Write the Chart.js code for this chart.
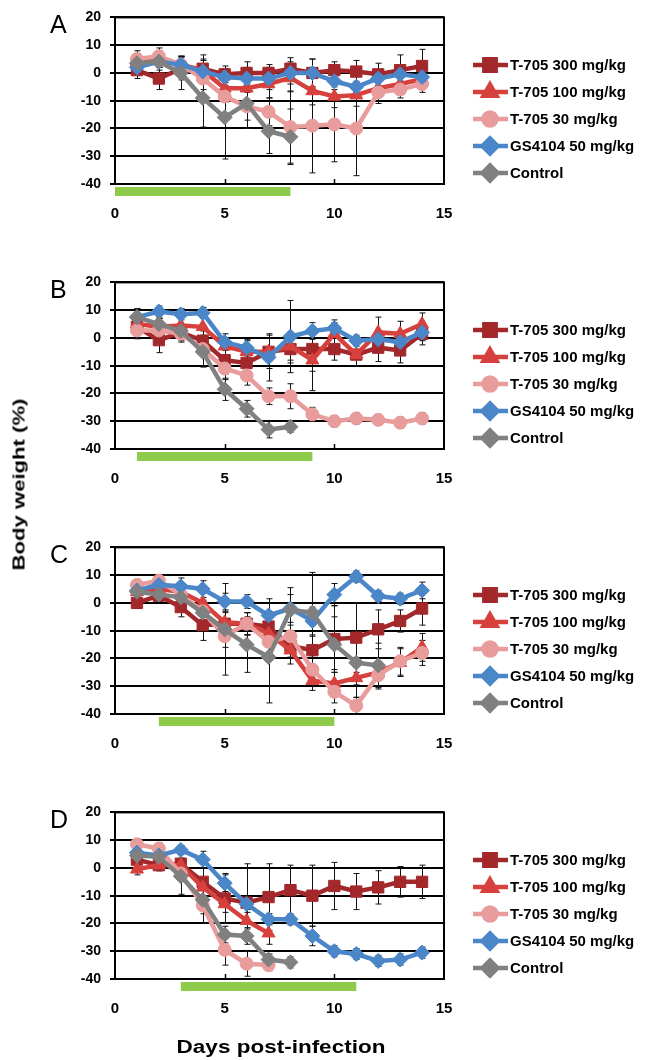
<!DOCTYPE html>
<html>
<head>
<meta charset="utf-8">
<script src="https://cdn.jsdelivr.net/npm/chart.js@4.4.0/dist/chart.umd.min.js"></script>
<style>
  body { margin: 0; background: #fff; }
  #wrap { position: relative; width: 653px; height: 1060px; overflow: hidden; font-family: "Liberation Sans", Arial, sans-serif; }
  canvas { position: absolute; left: 0; }
  .letter { position: absolute; left: 50px; font-size: 25px; line-height: 25px; color: #000; }
  #ytitle { position: absolute; left: -81px; top: 476px; width: 200px; height: 17px; line-height: 17px; font-size: 17px; font-weight: bold; text-align: center; transform: rotate(-90deg) scaleX(1.3); }
  #xtitle { position: absolute; left: 81px; top: 1038px; width: 400px; line-height: 18px; font-size: 18px; font-weight: bold; text-align: center; transform: scaleX(1.25); }
</style>
</head>
<body>
<div id="wrap">
  <canvas id="c0" width="653" height="265" style="top:0px"></canvas>
  <canvas id="c1" width="653" height="265" style="top:265px"></canvas>
  <canvas id="c2" width="653" height="265" style="top:530px"></canvas>
  <canvas id="c3" width="653" height="265" style="top:795px"></canvas>
  <div class="letter" style="top:12px">A</div>
  <div class="letter" style="top:277px">B</div>
  <div class="letter" style="top:542px">C</div>
  <div class="letter" style="top:807px">D</div>
  <div id="ytitle">Body weight (%)</div>
  <div id="xtitle">Days post-infection</div>
</div>
<script>
// Body weight change after infection, 4 panels

const days = [1, 2, 3, 4, 5, 6, 7, 8, 9, 10, 11, 12, 13, 14];
const seriesNames = ['T-705 300 mg/kg', 'T-705 100 mg/kg', 'T-705 30 mg/kg', 'GS4104 50 mg/kg', 'Control'];
const panelLetters = ['A', 'B', 'C', 'D'];
const treatStart = [0, 1, 2, 3];
const treatEnd = [8, 9, 10, 11];

// Panel A
const a300 = [1, -2, 1.5, 1.5, -0.5, 0, 0, 1.5, 0, 1, 0.5, -0.5, 1, 2.5];
const a100 = [4, 5, 3, 1, -5.5, -5.5, -4, -1.8, -6.5, -8.5, -8, -5.5, -4, -2.3];
const a30 = [5, 6, 3, -2, -8.5, -12, -14, -19.5, -19, -18.5, -20, -7, -6, -4];
const aGS = [2, 4, 3, 0.5, -1.5, -2, -2, 0, 0, -3, -5, -2, -0.5, -1.5];
const aCtl = [3.5, 4, 0, -9, -16, -11, -21, -23];
const a300e = [3, 4, 4, 5, 3, 4, 3, 4, 5, 3, 4, 4, 5.5, 6];
const a100e = [3, 3, 3, 4, 5, 5, 5, 5, 5, 4, 4, 3, 3, 3];
const a30e = [3, 3, 3, 4, 6, 5, 5, 13, 17, 13.5, 17, 4, 3, 3];
const aGSe = [2, 2, 3, 4, 3, 4, 4, 4, 5, 3, 4, 3, 3, 3];
const aCtle = [3, 3, 6, 10.5, 15, 9, 8, 10];

// Panel B
const b300 = [4, -0.8, 2, -1, -8, -9, -5, -4, -4, -4, -6, -3.5, -4.5, 1.5];
const b100 = [5, 4, 4.5, 4, -3, -5, -5, -3, -8, 1.5, -6, 2, 1.5, 5];
const b30 = [2.7, 2.7, 1.5, -4, -11, -13.5, -21, -21, -27.5, -30, -29, -29.5, -30.5, -29];
const bGS = [7.5, 9.5, 8.5, 9, -1.5, -3.5, -7, 0.5, 2.5, 3.5, -1, -0.5, -1.5, 2];
const bCtl = [7.5, 5, 2.5, -5, -18.5, -25.5, -33, -32];
const b300e = [4, 4.5, 3, 4, 5, 4, 5, 5, 8, 4, 4, 5, 4.5, 4];
const b100e = [4, 3, 3, 3, 3, 4, 6, 5, 11, 4, 4, 5.5, 4.5, 4];
const b30e = [3, 3, 3, 6.5, 4, 3.5, 3, 4.5, 2.5, 2, 2, 2, 2, 2];
const bGSe = [3, 2, 2, 2, 3, 3, 8.5, 13, 3, 3, 2, 3, 3, 3];
const bCtle = [3, 2, 2, 5, 4, 3, 3, 2];

// Panel C
const c300 = [0, 2.6, -1.5, -8, -7.5, -7.5, -8.5, -15.5, -17, -13, -12.5, -9.5, -6.5, -2];
const c100 = [4, 5, 4, 0, -7, -7.5, -11, -17, -28, -29, -27, -25, -21.5, -16];
const c30 = [6.5, 8, 3, -3, -12, -7.5, -14, -12, -24, -32, -37, -26, -21, -18];
const cGS = [4.5, 6.5, 6, 5, 0.5, 0.5, -4.5, -2, -6.5, 3, 9.5, 2.5, 1.5, 4.5];
const cCtl = [4, 3, 2, -3.5, -9.5, -15, -19.5, -2.5, -3.5, -15, -21.5, -22.5];
const c300e = [2, 2, 3.5, 5.5, 4, 4, 4, 4, 5, 12, 12.5, 7, 4, 6];
const c100e = [2, 2, 3, 4, 4, 4, 4, 5, 3.5, 5, 7, 5, 5, 5];
const c30e = [2, 2, 3, 4, 4, 4, 4, 4, 5, 4, 3, 5, 5, 4.5];
const cGSe = [2, 2, 3, 3, 3, 2.5, 6, 5, 5, 4, 2, 2, 2, 3];
const cCtle = [2, 2, 3, 4, 16.5, 10, 16.5, 8, 14.5, 10, 8, 8];

// Panel D
const d300 = [3, 1, 1.5, -5, -11, -12.5, -10.5, -8, -10, -6.5, -8.5, -7, -5, -5];
const d100 = [-0.5, 1, 1, -7, -13, -19, -23.5];
const d30 = [8.5, 7, -2, -13.5, -29.5, -34.5, -35];
const dGS = [5.5, 4.5, 6.5, 3, -5.5, -13, -18.5, -18.5, -24.5, -30, -31, -33.5, -33, -30.5];
const dCtl = [4.5, 4, -3, -11.5, -24, -24.5, -33, -34];
const d300e = [2, 2, 2, 5, 9, 14, 12, 9, 11, 8.5, 6.5, 6, 5.5, 6];
const d100e = [2, 2, 2, 3, 3, 3, 4];
const d30e = [2, 2, 2, 6.5, 5.5, 4.5, 2];
const dGSe = [2, 2, 1.5, 3, 3, 2, 2, 2, 3.5, 2, 2, 2, 2, 2];
const dCtle = [2, 2, 6.5, 5, 3, 3, 2, 2];

const panelValues = [
    [a300, a100, a30, aGS, aCtl],
    [b300, b100, b30, bGS, bCtl],
    [c300, c100, c30, cGS, cCtl],
    [d300, d100, d30, dGS, dCtl]
];
const panelErrors = [
    [a300e, a100e, a30e, aGSe, aCtle],
    [b300e, b100e, b30e, bGSe, bCtle],
    [c300e, c100e, c30e, cGSe, cCtle],
    [d300e, d100e, d30e, dGSe, dCtle]
];

const colors = ['#a3282b', '#d7413d', '#e89c9c', '#4a86c8', '#808080'];
const markers = ['rect', 'triangle', 'circle', 'rectRot', 'rectRot'];
const radii = [8, 7.5, 6.5, 7.5, 7.5];

Chart.defaults.font.family = '"Liberation Sans", Arial, sans-serif';
Chart.defaults.color = '#000';

// frame, treatment bar, error bars and legend
const framePlugin = {
    id: 'frame',
    beforeDatasetsDraw(chart, args, opts) {
        const ctx = chart.ctx;
        const ca = chart.chartArea;
        const xs = chart.scales.x;
        const ys = chart.scales.y;
        ctx.save();

        // green bar = treatment period
        const x0 = xs.getPixelForValue(opts.start);
        const x1 = xs.getPixelForValue(opts.end);
        ctx.fillStyle = '#8fcb4b';
        ctx.fillRect(x0, ca.bottom + 3, x1 - x0, 9);

        ctx.strokeStyle = '#000';
        ctx.lineWidth = 2;
        ctx.strokeRect(ca.left, ca.top, ca.width, ca.height);

        // small inner tick marks on x axis
        ctx.lineWidth = 1.5;
        [5, 10].forEach(v => {
            const px = Math.round(xs.getPixelForValue(v)) + 0.5;
            ctx.beginPath();
            ctx.moveTo(px, ca.bottom);
            ctx.lineTo(px, ca.bottom - 5);
            ctx.stroke();
        });

        // error bars
        ctx.lineWidth = 1;
        ctx.strokeStyle = '#111';
        chart.data.datasets.forEach(ds => {
            ds.data.forEach(p => {
                if (!p.e) return;
                const px = Math.round(xs.getPixelForValue(p.x)) + 0.5;
                const yt = ys.getPixelForValue(p.y + p.e);
                const yb = ys.getPixelForValue(p.y - p.e);
                ctx.beginPath();
                ctx.moveTo(px, yt);
                ctx.lineTo(px, yb);
                ctx.moveTo(px - 3, yt);
                ctx.lineTo(px + 3, yt);
                ctx.moveTo(px - 3, yb);
                ctx.lineTo(px + 3, yb);
                ctx.stroke();
            });
        });
        ctx.restore();
    },
    afterDraw(chart) {
        const ctx = chart.ctx;
        ctx.save();
        ctx.font = 'bold 15px "Liberation Sans", Arial, sans-serif';
        ctx.textBaseline = 'middle';
        seriesNames.forEach((name, i) => {
            const ly = 65 + i * 27;
            ctx.strokeStyle = colors[i];
            ctx.fillStyle = colors[i];
            ctx.lineWidth = 4.5;
            ctx.beginPath();
            ctx.moveTo(473, ly);
            ctx.lineTo(508, ly);
            ctx.stroke();
            Chart.helpers.drawPoint(ctx, {
                pointStyle: markers[i], radius: radii[i], borderWidth: 1, rotation: 0
            }, 490, ly);
            ctx.fillStyle = '#000';
            ctx.fillText(name, 510, ly + 1);
        });
        ctx.restore();
    }
};

function makeDatasets(p) {
    return seriesNames.map((name, i) => {
        const vals = panelValues[p][i];
        const errs = panelErrors[p][i];
        const pts = [];
        vals.forEach((v, k) => {
            if (v !== null) pts.push({ x: days[k], y: v, e: errs[k] });
        });
        return {
            label: name,
            data: pts,
            borderColor: colors[i],
            backgroundColor: colors[i],
            borderWidth: 4.5,
            pointStyle: markers[i],
            pointRadius: radii[i],
            pointBorderWidth: 1,
            tension: 0,
            order: 5 - i
        };
    });
}

panelLetters.forEach((letter, p) => {
    new Chart(document.getElementById('c' + p), {
        type: 'line',
        data: { datasets: makeDatasets(p) },
        plugins: [framePlugin],
        options: {
            responsive: false,
            animation: false,
            layout: { padding: { left: 0, top: 14, right: 209, bottom: 41 } },
            plugins: {
                legend: { display: false },
                tooltip: { enabled: false },
                frame: { start: treatStart[p], end: treatEnd[p] }
            },
            scales: {
                x: {
                    type: 'linear',
                    min: 0,
                    max: 15,
                    afterFit: s => { s.height = 40; },
                    grid: { display: false },
                    border: { display: true, color: '#000', width: 2 },
                    ticks: { stepSize: 5, padding: 13, font: { size: 15, weight: 'bold' } }
                },
                y: {
                    min: -40,
                    max: 20,
                    afterFit: s => { s.width = 115; },
                    grid: { color: '#000', lineWidth: 2, tickLength: 5 },
                    border: { display: true, color: '#000', width: 2 },
                    ticks: { stepSize: 10, padding: 9, font: { size: 14, weight: 'bold' } }
                }
            }
        }
    });
});
</script>
</body>
</html>
